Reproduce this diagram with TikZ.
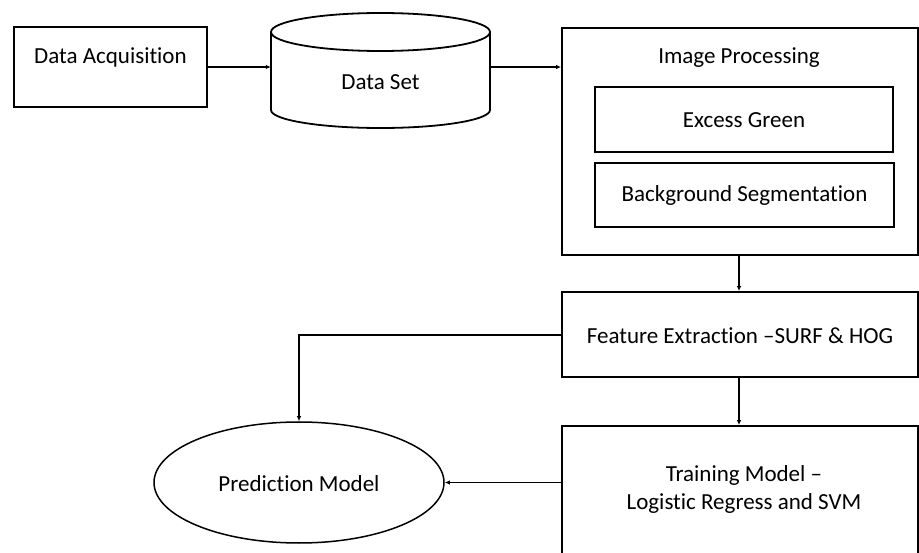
\documentclass[tikz,border=0pt]{standalone}
\usepackage{fontspec}
\setmainfont{Carlito}[Ligatures={NoCommon}]
\usetikzlibrary{arrows.meta,shapes.geometric}
\tikzset{
  box/.style={draw, line width=1.8pt, rectangle, inner sep=0pt},
  lbl/.style={inner sep=0pt, font=\fontsize{23}{28}\selectfont, align=center},
  arr/.style={line width=1.2pt, -{Latex[length=5pt,width=4.5pt]}},
  ln/.style={line width=1.2pt},
}
\begin{document}
\begin{tikzpicture}[x=1pt,y=-1pt]
\useasboundingbox (0,0) rectangle (919,553);
\clip (0,0) rectangle (919,553);
\fill[white] (0,0) rectangle (919,553);
% Data Acquisition
\node[box, minimum width=193pt, minimum height=80pt] (da) at (110.5,67) {};
\node[lbl] (dat) at (110.5,57) {Data Acquisition};
% Data Set cylinder
\node[inner sep=0pt, minimum width=219pt, minimum height=115pt] (ds) at (380.5,70.5) {};
\draw[line width=1.8pt] (380.5,32) ellipse [x radius=109.5pt, y radius=19pt];
\draw[line width=1.8pt] (271,32) -- (271,110) arc[start angle=180, end angle=360, x radius=109.5pt, y radius=18pt] -- (490,32);
\node[lbl] (dst) at (380.5,82) {Data Set};
% Image Processing
\node[box, minimum width=356pt, minimum height=227pt] (ip) at (740,141.5) {};
\node[lbl] (ipt) at (739,58) {Image Processing};
\node[box, minimum width=298pt, minimum height=65pt] (eg) at (744,119.5) {};
\node[lbl] (egt) at (744,120) {Excess Green};
\node[box, minimum width=299pt, minimum height=64pt] (bs) at (744.5,195) {};
\node[lbl] (bst) at (744.5,195) {Background Segmentation};
% Feature Extraction
\node[box, minimum width=356pt, minimum height=85pt] (fe) at (740,334.5) {};
\node[lbl] (fet) at (740,336) {Feature Extraction –SURF \& HOG};
% Training Model
\node[box, minimum width=356pt, minimum height=174pt] (tm) at (740,513) {};
\node[lbl] (tmt) at (744,489.5) {Training Model –\\Logistic Regress and SVM};
% Prediction Model
\node[draw, line width=1.5pt, ellipse, inner sep=0pt, minimum width=290pt, minimum height=121pt] (pm) at (299,482.5) {};
\node[lbl] (pmt) at (299,484) {Prediction Model};
% connectors
\draw[arr] (da.east) -- (da.east -| ds.west);
\draw[arr] (ds.east |- da.east) -- (ip.west |- da.east);
\draw[arr] (ip.south -| 739,0) -- (fe.north -| 739,0);
\draw[arr] (fe.south -| 739,0) -- (tm.north -| 739,0);
\draw[arr] (fe.west |- 0,335) -- (pm.north |- 0,335) -- (pm.north);
\draw[arr] (tm.west |- pm.east) -- (pm.east);
\end{tikzpicture}
\end{document}
